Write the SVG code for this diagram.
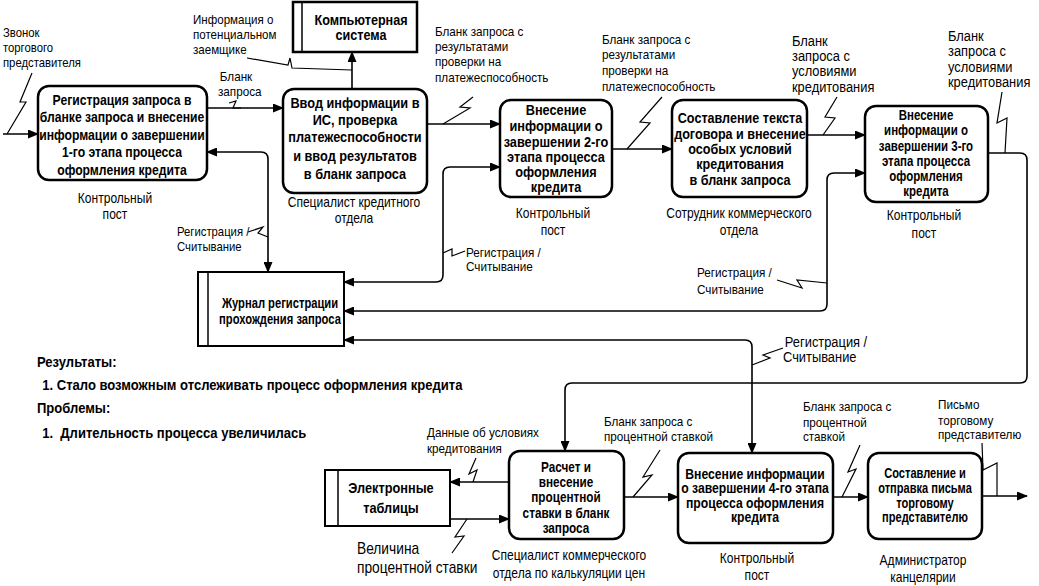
<svg xmlns="http://www.w3.org/2000/svg" width="1039" height="586" viewBox="0 0 1039 586">
<defs>
<marker id="ah" markerUnits="userSpaceOnUse" markerWidth="11" markerHeight="9" refX="10" refY="4.5" orient="auto-start-reverse"><path d="M0,0 L11,4.5 L0,9 z" fill="#000"/></marker>
<style>
.box{fill:#fff;stroke:#000;stroke-width:2.5}
.store{fill:#fff;stroke:#000;stroke-width:2}
.c{fill:none;stroke:#000;stroke-width:1.6}
.z{fill:none;stroke:#000;stroke-width:1.2}
text{font-family:"Liberation Sans",Arial,sans-serif;fill:#000}
.t{font-size:14px;font-weight:bold;text-anchor:middle}
.r{font-size:14px;text-anchor:middle}
.l{font-size:13px}
.lb{font-size:14px}
.h{font-size:15px;font-weight:bold}
</style>
</defs>
<rect width="1039" height="586" fill="#fff"/>

<g id="connectors">
<path class="c" d="M3,134 H38" marker-end="url(#ah)"/>
<path class="c" d="M207,108 H283" marker-end="url(#ah)"/>
<path class="c" d="M352,89 V52" marker-end="url(#ah)"/>
<path class="c" d="M427,124 H500" marker-end="url(#ah)"/>
<path class="c" d="M612,149 H672" marker-end="url(#ah)"/>
<path class="c" d="M807,135 H865" marker-end="url(#ah)"/>
<path class="c" d="M988,153 H1020 Q1027,153 1027,160 V376 Q1027,383 1020,383 H572 Q565,383 565,390 V451" marker-end="url(#ah)"/>
<path class="c" d="M344,340 H745 Q752,340 752,347 V453" marker-start="url(#ah)" marker-end="url(#ah)"/>
<path class="c" d="M207,152 H261 Q268,152 268,159 V272" marker-start="url(#ah)" marker-end="url(#ah)"/>
<path class="c" d="M500,167 H450 Q443,167 443,174 V275 Q443,282 436,282 H344" marker-start="url(#ah)" marker-end="url(#ah)"/>
<path class="c" d="M865,173 H834 Q827,173 827,180 V304 Q827,311 820,311 H344" marker-start="url(#ah)" marker-end="url(#ah)"/>
<path class="c" d="M509,482 H450" marker-end="url(#ah)"/>
<path class="c" d="M450,519 H509" marker-end="url(#ah)"/>
<path class="c" d="M624,497 H678" marker-end="url(#ah)"/>
<path class="c" d="M833,497 H868" marker-end="url(#ah)"/>
<path class="c" d="M982,496 H1027" marker-end="url(#ah)"/>
<path class="z" d="M32,73 L20,102 L26,102 L7,134"/>
<path class="z" d="M229,103 L236,101 L233,108 L241,108"/>
<path class="z" d="M247,58 L288,65 L290,58 L292,68 L352,70"/>
<path class="z" d="M473,97 L460,107 L470,108 L443,124"/>
<path class="z" d="M662,97 L640,122 L650,123 L627,149"/>
<path class="z" d="M837,97 L825,117 L835,118 L823,135"/>
<path class="z" d="M1002,92 L997,123 L1007,118 L1005,153"/>
<path class="z" d="M248,232 L263,227 L258,233 L268,237"/>
<path class="z" d="M443,253 L452,249 L452,256 L465,251"/>
<path class="z" d="M777,280 L802,288 L797,280 L827,283"/>
<path class="z" d="M752,365 L770,358 L763,355 L783,348"/>
<path class="z" d="M476,458 L469,474 L477,470 L473,482"/>
<path class="z" d="M467,519 L455,537 L464,536 L452,553"/>
<path class="z" d="M660,450 L643,477 L652,475 L633,497"/>
<path class="z" d="M860,445 L848,472 L856,469 L842,497"/>
<path class="z" d="M982,443 L983,470 L997,463 L997,496"/>
</g>

<g id="labels">
<g transform="matrix(0.87,0,0,1,0.39,0)">
<text class="l" x="3" y="37">Звонок</text>
<text class="l" x="3" y="52">торгового</text>
<text class="l" x="3" y="67">представителя</text>
</g>
<g transform="matrix(0.89,0,0,1,21.23,0)">
<text class="l" x="193" y="24">Информация о</text>
<text class="l" x="193" y="39">потенциальном</text>
<text class="l" x="193" y="54">заемщике</text>
</g>
<g transform="matrix(0.9,0,0,1,21.8,0)">
<text class="l" x="220" y="81">Бланк</text>
<text class="l" x="218" y="96">запроса</text>
</g>
<g transform="matrix(0.9,0,0,1,43.5,0)">
<text class="l" x="435" y="36">Бланк запроса с</text>
<text class="l" x="435" y="51">результатами</text>
<text class="l" x="435" y="66">проверки на</text>
<text class="l" x="435" y="82">платежеспособность</text>
</g>
<g transform="matrix(0.9,0,0,1,60.2,0)">
<text class="l" x="602" y="44">Бланк запроса с</text>
<text class="l" x="602" y="59">результатами</text>
<text class="l" x="602" y="75">проверки на</text>
<text class="l" x="602" y="91">платежеспособность</text>
</g>
<g transform="matrix(0.92,0,0,1,63.36,0)">
<text class="lb" x="792" y="46">Бланк</text>
<text class="lb" x="792" y="61">запроса с</text>
<text class="lb" x="792" y="76">условиями</text>
<text class="lb" x="792" y="92">кредитования</text>
</g>
<g transform="matrix(0.92,0,0,1,75.84,0)">
<text class="lb" x="948" y="41">Бланк</text>
<text class="lb" x="948" y="56">запроса с</text>
<text class="lb" x="948" y="72">условиями</text>
<text class="lb" x="948" y="87">кредитования</text>
</g>
<g transform="matrix(0.87,0,0,1,23.01,0)">
<text class="l" x="177" y="236">Регистрация /</text>
<text class="l" x="177" y="251">Считывание</text>
</g>
<g transform="matrix(0.9,0,0,1,46.6,0)">
<text class="l" x="466" y="257">Регистрация /</text>
<text class="l" x="466" y="271">Считывание</text>
</g>
<g transform="matrix(0.9,0,0,1,69.7,0)">
<text class="l" x="697" y="277">Регистрация /</text>
<text class="l" x="697" y="294">Считывание</text>
</g>
<g transform="matrix(0.92,0,0,1,62.64,0)">
<text class="lb" x="785" y="347">Регистрация /</text>
<text class="lb" x="783" y="362">Считывание</text>
</g>
<g transform="matrix(0.9,0,0,1,42.7,0)">
<text class="l" x="427" y="437">Данные об условиях</text>
<text class="l" x="427" y="453">кредитования</text>
</g>
<g transform="matrix(0.9,0,0,1,60.4,0)">
<text class="l" x="604" y="426">Бланк запроса с</text>
<text class="l" x="604" y="441">процентной ставкой</text>
</g>
<g transform="matrix(0.9,0,0,1,80.3,0)">
<text class="l" x="803" y="411">Бланк запроса с</text>
<text class="l" x="803" y="427">процентной</text>
<text class="l" x="803" y="441">ставкой</text>
</g>
<g transform="matrix(0.9,0,0,1,93.8,0)">
<text class="l" x="938" y="409">Письмо</text>
<text class="l" x="938" y="425">торговому</text>
<text class="l" x="938" y="439">представителю</text>
</g>
<g transform="matrix(0.86,0,0,1,49.98,0)">
<text style="font-size:16px" x="357" y="554">Величина</text>
<text style="font-size:16px" x="357" y="573">процентной ставки</text>
</g>
<g transform="matrix(0.87,0,0,1,4.81,0)">
<text class="h" x="37" y="367">Результаты:</text>
<text class="h" x="43" y="390">1. Стало возможным отслеживать процесс оформления кредита</text>
<text class="h" x="37" y="413">Проблемы:</text>
<text class="h" x="43" y="438" xml:space="preserve">1.  Длительность процесса увеличилась</text>
</g>
</g>

<g id="n1">
<rect class="box" x="38" y="86" width="169" height="94" rx="11"/>
<g transform="matrix(0.87,0,0,1,15.86,0)">
<text class="t" x="122" y="105">Регистрация запроса в</text>
<text class="t" x="122" y="122">бланке запроса и внесение</text>
<text class="t" x="122" y="140">информации о завершении</text>
<text class="t" x="122" y="157">1-го этапа процесса</text>
<text class="t" x="122" y="175">оформления кредита</text>
</g>
<g transform="matrix(0.86,0,0,1,16.1,0)">
<text class="r" x="115" y="203">Контрольный</text>
<text class="r" x="115" y="219">пост</text>
</g>
</g>

<g id="n2">
<rect class="box" x="283" y="89" width="144" height="104" rx="11"/>
<g transform="matrix(0.91,0,0,1,31.95,0)">
<text class="t" x="355" y="108">Ввод информации в</text>
<text class="t" x="355" y="125">ИС, проверка</text>
<text class="t" x="355" y="142">платежеспособности</text>
<text class="t" x="355" y="161">и ввод результатов</text>
<text class="t" x="355" y="179">в бланк запроса</text>
</g>
<g transform="matrix(0.86,0,0,1,49.56,0)">
<text class="r" x="354" y="207">Специалист кредитного</text>
<text class="r" x="354" y="223">отдела</text>
</g>
</g>

<g id="n3">
<rect class="box" x="500" y="100" width="112" height="97" rx="11"/>
<g transform="matrix(0.91,0,0,1,50.04,0)">
<text class="t" x="556" y="115">Внесение</text>
<text class="t" x="556" y="131">информации о</text>
<text class="t" x="556" y="147">завершении 2-го</text>
<text class="t" x="556" y="162">этапа процесса</text>
<text class="t" x="556" y="177">оформления</text>
<text class="t" x="556" y="192">кредита</text>
</g>
<g transform="matrix(0.86,0,0,1,77.42,0)">
<text class="r" x="553" y="218">Контрольный</text>
<text class="r" x="553" y="235">пост</text>
</g>
</g>

<g id="n4">
<rect class="box" x="672" y="100" width="135" height="97" rx="11"/>
<g transform="matrix(0.9,0,0,1,74,0)">
<text class="t" x="740" y="123">Составление текста</text>
<text class="t" x="740" y="139">договора и внесение</text>
<text class="t" x="740" y="154">особых условий</text>
<text class="t" x="740" y="169">кредитования</text>
<text class="t" x="740" y="185">в бланк запроса</text>
</g>
<g transform="matrix(0.86,0,0,1,103.46,0)">
<text class="r" x="739" y="218">Сотрудник коммерческого</text>
<text class="r" x="739" y="235">отдела</text>
</g>
</g>

<g id="n5">
<rect class="box" x="865" y="106" width="123" height="96" rx="11"/>
<g transform="matrix(0.82,0,0,1,166.68,0)">
<text class="t" x="926" y="120">Внесение</text>
<text class="t" x="926" y="135">информации о</text>
<text class="t" x="926" y="151">завершении 3-го</text>
<text class="t" x="926" y="166">этапа процесса</text>
<text class="t" x="926" y="181">оформления</text>
<text class="t" x="926" y="196">кредита</text>
</g>
<g transform="matrix(0.86,0,0,1,129.36,0)">
<text class="r" x="924" y="220">Контрольный</text>
<text class="r" x="924" y="238">пост</text>
</g>
</g>

<g id="computer">
<rect x="293" y="2" width="124" height="50" fill="#fff" stroke="#000" stroke-width="2.5"/>
<line x1="302" y1="2" x2="302" y2="52" stroke="#000" stroke-width="1.5"/>
<g transform="matrix(0.9,0,0,1,36.1,0)">
<text class="t" x="361" y="25">Компьютерная</text>
<text class="t" x="361" y="40">система</text>
</g>
</g>

<g id="journal">
<rect class="store" x="198" y="272" width="146" height="74"/>
<line x1="208" y1="272" x2="208" y2="346" stroke="#000" stroke-width="1.5"/>
<g transform="matrix(0.8,0,0,1,56,0)">
<text class="t" x="280" y="308">Журнал регистрации</text>
<text class="t" x="280" y="324">прохождения запроса</text>
</g>
</g>

<g id="tables">
<rect class="store" x="325" y="470" width="125" height="56"/>
<line x1="338" y1="470" x2="338" y2="526" stroke="#000" stroke-width="1.5"/>
<g transform="matrix(0.85,0,0,1,58.65,0)">
<text class="t" x="391" y="493" style="font-size:15px">Электронные</text>
<text class="t" x="391" y="513" style="font-size:15px">таблицы</text>
</g>
</g>

<g id="n6">
<rect class="box" x="509" y="451" width="115" height="88" rx="11"/>
<g transform="matrix(0.84,0,0,1,90.56,0)">
<text class="t" x="566" y="472">Расчет и</text>
<text class="t" x="566" y="487">внесение</text>
<text class="t" x="566" y="502">процентной</text>
<text class="t" x="566" y="518">ставки в бланк</text>
<text class="t" x="566" y="533">запроса</text>
</g>
<g transform="matrix(0.86,0,0,1,79.66,0)">
<text class="r" x="569" y="560">Специалист коммерческого</text>
<text class="r" x="569" y="578">отдела по калькуляции цен</text>
</g>
</g>

<g id="n7">
<rect class="box" x="678" y="453" width="155" height="90" rx="11"/>
<g transform="matrix(0.87,0,0,1,98.15,0)">
<text class="t" x="755" y="479">Внесение информации</text>
<text class="t" x="755" y="493">о завершении 4-го этапа</text>
<text class="t" x="755" y="508">процесса оформления</text>
<text class="t" x="755" y="522">кредита</text>
</g>
<g transform="matrix(0.86,0,0,1,105.98,0)">
<text class="r" x="757" y="563">Контрольный</text>
<text class="r" x="757" y="580">пост</text>
</g>
</g>

<g id="n8">
<rect class="box" x="868" y="453" width="114" height="86" rx="11"/>
<g transform="matrix(0.79,0,0,1,194.25,0)">
<text class="t" x="925" y="478">Составление и</text>
<text class="t" x="925" y="493">отправка письма</text>
<text class="t" x="925" y="508">торговому</text>
<text class="t" x="925" y="522">представителю</text>
</g>
<g transform="matrix(0.86,0,0,1,129.22,0)">
<text class="r" x="923" y="565">Администратор</text>
<text class="r" x="923" y="582">канцелярии</text>
</g>
</g>
</svg>
